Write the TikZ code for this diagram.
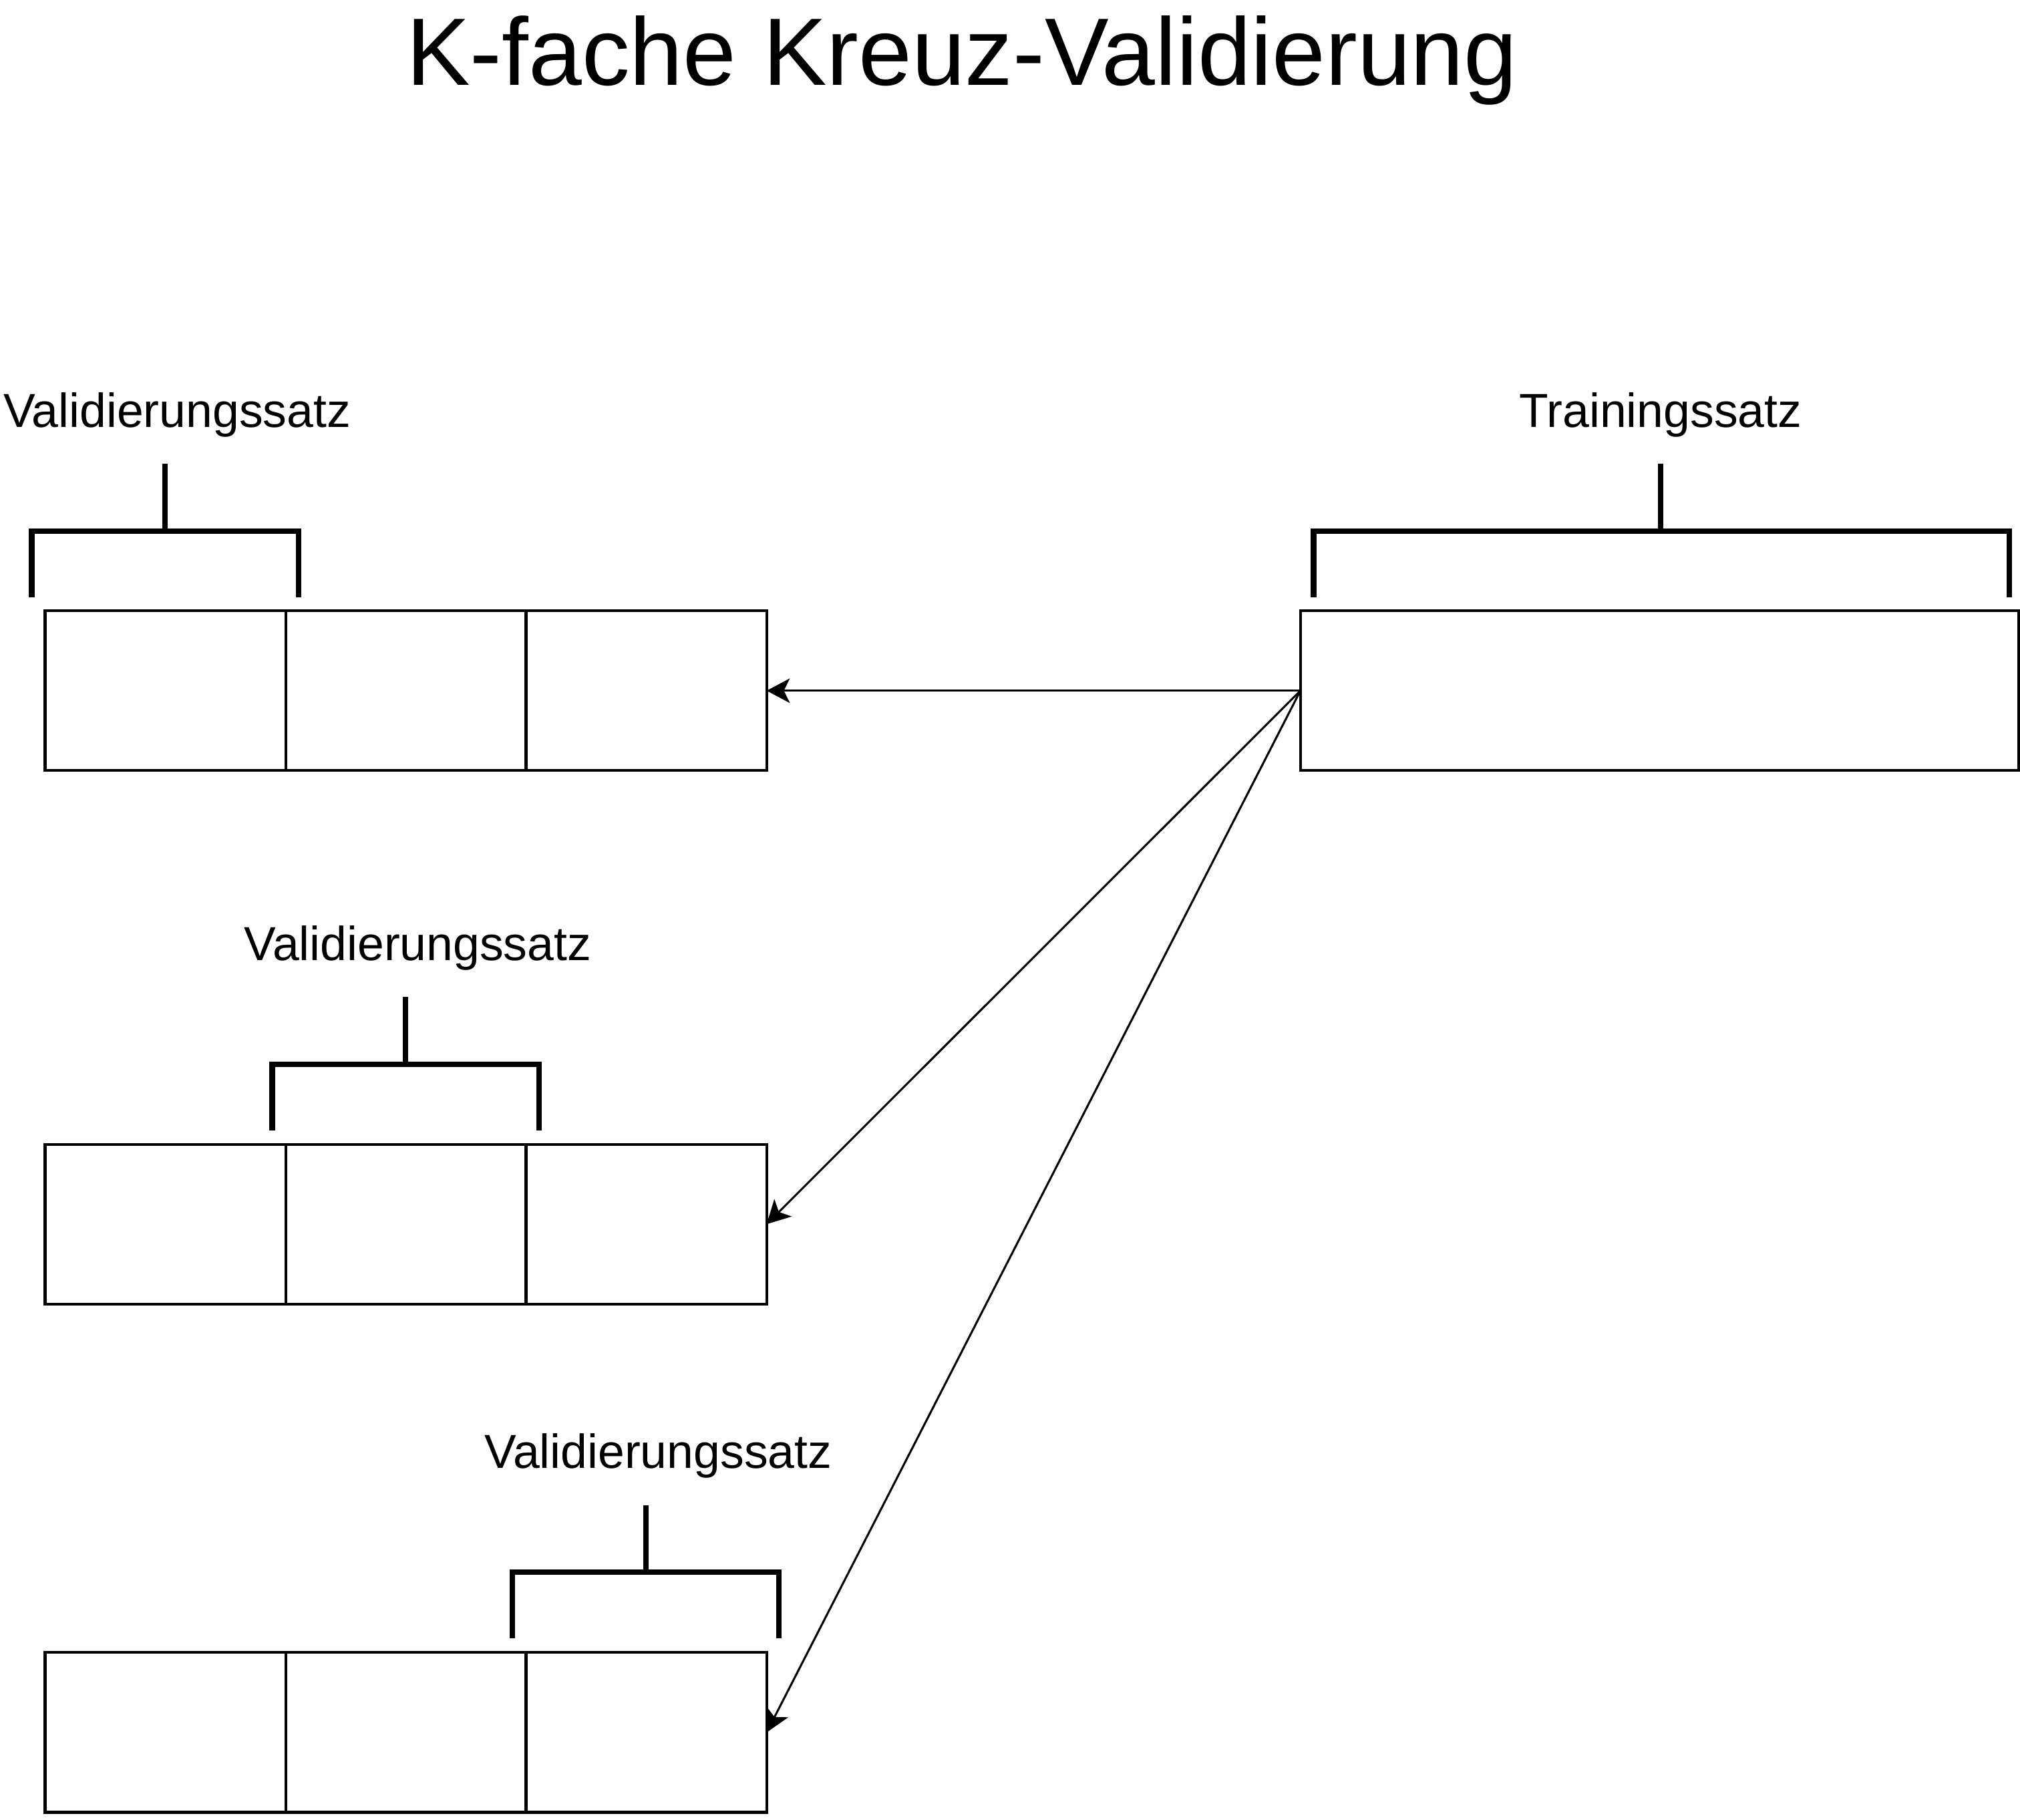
\documentclass[tikz,border=0pt]{standalone}
\usepackage{fontspec}
\setmainfont{Liberation Sans}
\usetikzlibrary{arrows.meta}
\begin{document}
\begin{tikzpicture}[x=0.01cm,y=-0.01cm,
  cell/.style={draw,line width=0.6pt,minimum width=1.867cm,minimum height=1.24cm,inner sep=0pt,outer sep=0pt,anchor=north west},
  trainbox/.style={draw,line width=0.6pt,minimum width=5.575cm,minimum height=1.24cm,inner sep=0pt,outer sep=0pt,anchor=north west},
  bracket/.style={line width=1.2pt,line join=miter},
  lbl/.style={font=\fontsize{10.55pt}{12pt}\selectfont,anchor=base,inner sep=0pt},
  ttl/.style={font=\fontsize{21.15pt}{24pt}\selectfont,anchor=base,inner sep=0pt},
  conn/.style={line width=0.45pt,-{Stealth[length=5.1pt,width=5.4pt,inset=1.3pt]}}]
\useasboundingbox (0,0) rectangle (1568,1412);

% title
\node[ttl] (title) at (746.6,66.2) {K-fache Kreuz-Validierung};

% training set
\node[trainbox] (t) at (1009.4,474) {};
\node[lbl] (tl) at (1289,331.5) {Trainingssatz};
\draw[bracket] (1019.7,463.3) -- (1019.7,412) -- (1559.5,412) -- (1559.5,463.3);
\draw[bracket] (1289.2,412) -- (1289.2,359.8);

% row 1
\node[cell] (a1) at (35,474) {};
\node[cell] (a2) at (221.7,474) {};
\node[cell] (a3) at (408.3,474) {};
\node[lbl] (la) at (137.6,331.5) {Validierungssatz};
\draw[bracket] (24.6,463.3) -- (24.6,412) -- (231.7,412) -- (231.7,463.3);
\draw[bracket] (128.2,412) -- (128.2,359.8);

% row 2
\node[cell] (b1) at (35,888) {};
\node[cell] (b2) at (221.7,888) {};
\node[cell] (b3) at (408.3,888) {};
\node[lbl] (lb) at (324.3,745.5) {Validierungssatz};
\draw[bracket] (211.3,877.3) -- (211.3,826) -- (418.4,826) -- (418.4,877.3);
\draw[bracket] (314.9,826) -- (314.9,773.8);

% row 3
\node[cell] (c1) at (35,1282.4) {};
\node[cell] (c2) at (221.7,1282.4) {};
\node[cell] (c3) at (408.3,1282.4) {};
\node[lbl] (lc) at (511,1139.7) {Validierungssatz};
\draw[bracket] (397.6,1271.5) -- (397.6,1220.2) -- (604.7,1220.2) -- (604.7,1271.5);
\draw[bracket] (501.2,1220.2) -- (501.2,1168);

% connectors
\draw[conn] (t.west) -- (a3.east);
\draw[conn] (t.west) -- (b3.east);
\draw[conn] (t.west) -- (c3.east);
\end{tikzpicture}
\end{document}
